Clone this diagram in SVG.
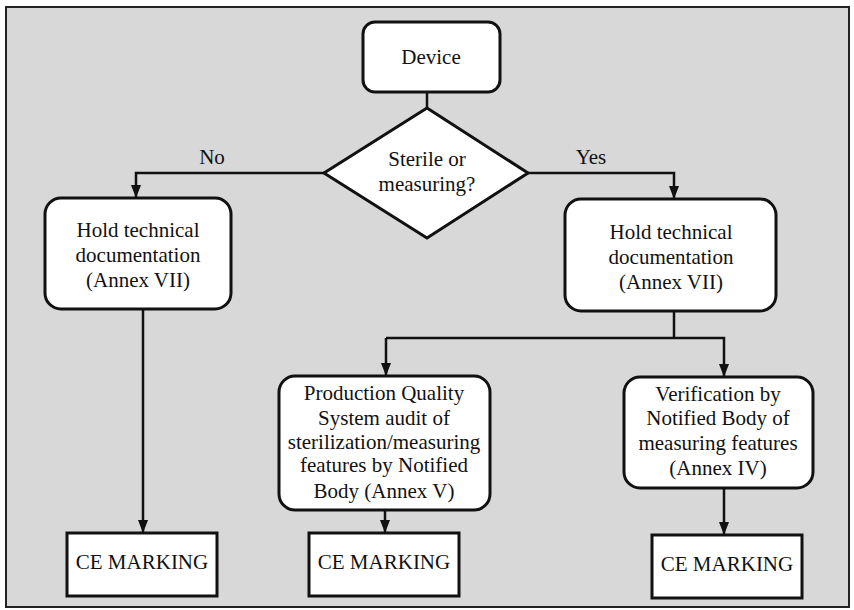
<svg xmlns="http://www.w3.org/2000/svg" width="854" height="610" viewBox="0 0 854 610">
<defs>
<marker id="arr" markerWidth="13" markerHeight="10" refX="12" refY="5" orient="auto" markerUnits="userSpaceOnUse" viewBox="0 0 13 10">
<path d="M0,0 L13,5 L0,10 Z" fill="#111"/>
</marker>
<style>
.t{font-family:"Liberation Serif","Times New Roman",serif;font-size:21px;fill:#111;text-anchor:middle}
.box{fill:#fff;stroke:#111;stroke-width:3}
.ln{fill:none;stroke:#111;stroke-width:2.5}
</style>
</defs>
<rect x="0" y="0" width="854" height="610" fill="#fff"/>
<rect x="6" y="7" width="843" height="600" fill="#d8d8d8" stroke="#222" stroke-width="2"/>
<g id="connectors">
<line class="ln" x1="427" y1="92" x2="427" y2="108"/>
<polyline class="ln" points="324,173 136,173 136,197" marker-end="url(#arr)"/>
<polyline class="ln" points="528,173 674,173 674,198" marker-end="url(#arr)"/>
<line class="ln" x1="143" y1="310" x2="143" y2="532" marker-end="url(#arr)"/>
<line class="ln" x1="674" y1="311" x2="674" y2="338"/>
<polyline class="ln" points="386,338 724,338 724,376" marker-end="url(#arr)"/>
<line class="ln" x1="386" y1="338" x2="386" y2="375" marker-end="url(#arr)"/>
<line class="ln" x1="385" y1="510" x2="385" y2="532" marker-end="url(#arr)"/>
<line class="ln" x1="724" y1="488" x2="724" y2="534" marker-end="url(#arr)"/>
</g>
<g id="device">
<rect class="box" x="363" y="22" width="137" height="70" rx="12"/>
<text class="t" x="431" y="64">Device</text>
</g>
<g id="decision">
<polygon class="box" points="427,108 528,173 427,238 324,173"/>
<text class="t" x="427" y="166">Sterile or</text>
<text class="t" x="427" y="191">measuring?</text>
</g>
<g id="label-no"><text class="t" x="212" y="164">No</text></g>
<g id="label-yes"><text class="t" x="591" y="164">Yes</text></g>
<g id="doc-left">
<rect class="box" x="45" y="198" width="186" height="111" rx="16"/>
<text class="t" x="138" y="237">Hold technical</text>
<text class="t" x="138" y="262">documentation</text>
<text class="t" x="138" y="287">(Annex VII)</text>
</g>
<g id="doc-right">
<rect class="box" x="565" y="199" width="211" height="112" rx="16"/>
<text class="t" x="671" y="239">Hold technical</text>
<text class="t" x="671" y="264">documentation</text>
<text class="t" x="671" y="289">(Annex VII)</text>
</g>
<g id="pqs">
<rect class="box" x="279" y="376" width="211" height="134" rx="16"/>
<text class="t" x="384" y="400">Production Quality</text>
<text class="t" x="384" y="425">System audit of</text>
<text class="t" x="384" y="449">sterilization/measuring</text>
<text class="t" x="384" y="472">features by Notified</text>
<text class="t" x="384" y="498">Body (Annex V)</text>
</g>
<g id="verif">
<rect class="box" x="624" y="377" width="189" height="111" rx="16"/>
<text class="t" x="718" y="401">Verification by</text>
<text class="t" x="718" y="425">Notified Body of</text>
<text class="t" x="718" y="450">measuring features</text>
<text class="t" x="718" y="475">(Annex IV)</text>
</g>
<g id="ce-left">
<rect class="box" x="67" y="533" width="150" height="63"/>
<text class="t" x="142" y="569">CE MARKING</text>
</g>
<g id="ce-mid">
<rect class="box" x="309" y="533" width="150" height="63"/>
<text class="t" x="384" y="569">CE MARKING</text>
</g>
<g id="ce-right">
<rect class="box" x="652" y="535" width="150" height="63"/>
<text class="t" x="727" y="571">CE MARKING</text>
</g>
</svg>
